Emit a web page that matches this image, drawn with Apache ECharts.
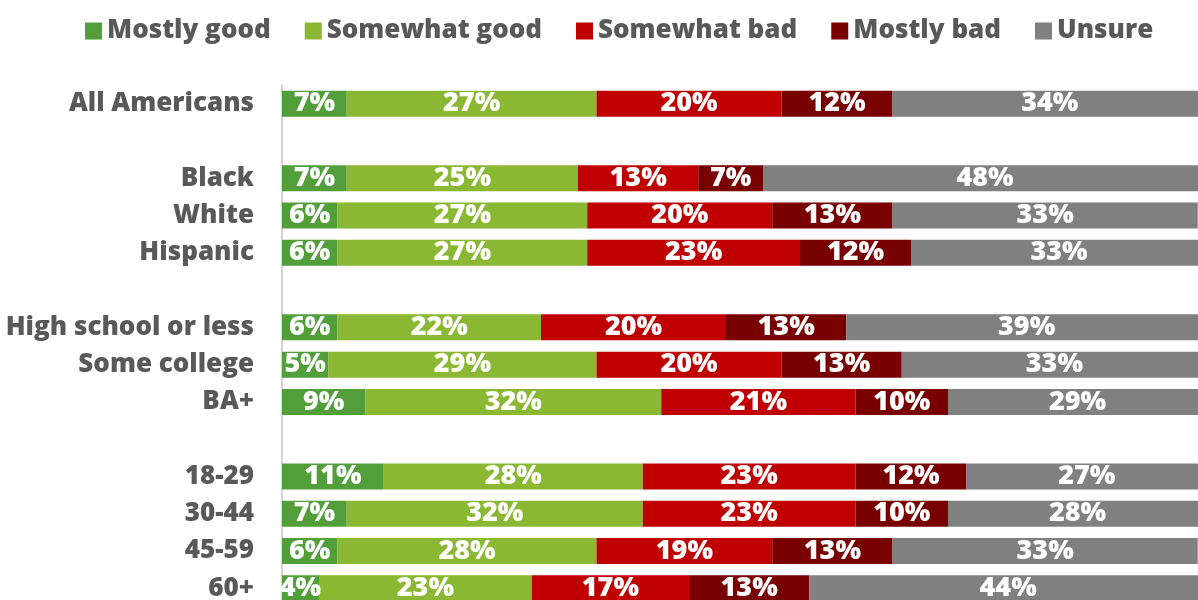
<!DOCTYPE html>
<html>
<head>
<meta charset="utf-8">
<script src="https://cdn.jsdelivr.net/npm/echarts@6/dist/echarts.min.js"></script>
<style>
  html, body { margin: 0; padding: 0; background: #ffffff; }
  #chart { width: 1198px; height: 600px; }
</style>
</head>
<body>
<div id="chart"></div>
<script>
// Row labels; empty strings are spacer rows between the groups.
const categories = [
  'All Americans', '',
  'Black', 'White', 'Hispanic', '',
  'High school or less', 'Some college', 'BA+', '',
  '18-29', '30-44', '45-59', '60+'
];

const seriesNames = ['Mostly good', 'Somewhat good', 'Somewhat bad', 'Mostly bad', 'Unsure'];
const seriesColors = ['#519e3a', '#8ab833', '#c00000', '#780000', '#808080'];

// Percentages per row (null on spacer rows).
const mostlyGood   = [7,  null, 7,  6,  6,  null, 6,  5,  9,  null, 11, 7,  6,  4];
const somewhatGood = [27, null, 25, 27, 27, null, 22, 29, 32, null, 28, 32, 28, 23];
const somewhatBad  = [20, null, 13, 20, 23, null, 20, 20, 21, null, 23, 23, 19, 17];
const mostlyBad    = [12, null, 7,  13, 12, null, 13, 13, 10, null, 12, 10, 13, 13];
const unsure       = [34, null, 48, 33, 33, null, 39, 33, 29, null, 27, 28, 33, 44];

const values = [mostlyGood, somewhatGood, somewhatBad, mostlyBad, unsure];

const FONT = '"Open Sans", Lato, sans-serif';

const chart = echarts.init(document.getElementById('chart'));
chart.setOption({
  backgroundColor: '#ffffff',
  animation: false,
  legend: {
    left: 80,
    top: 13,
    width: 1118,
    icon: 'rect',
    itemWidth: 17,
    itemHeight: 17,
    itemGap: 34,
    textStyle: {
      fontFamily: FONT, fontWeight: 800, fontSize: 26, color: '#595959'
    },
    data: seriesNames
  },
  // The plot runs a little past the right and bottom edges of the page.
  grid: {
    left: 282, width: 925, top: 85, bottom: -7,
    containLabel: false,
    outerBoundsMode: 'none'
  },
  xAxis: {
    type: 'value',
    min: 0,
    max: 100,
    show: false
  },
  yAxis: {
    type: 'category',
    inverse: true,
    data: categories,
    axisLine: { show: true, lineStyle: { color: '#d4d4d4', width: 2 } },
    axisTick: { show: false },
    axisLabel: {
      margin: 28,
      fontFamily: FONT,
      fontWeight: 800,
      fontSize: 26,
      color: '#595959'
    }
  },
  series: seriesNames.map((name, i) => ({
    name: name,
    type: 'bar',
    stack: 'total',
    barWidth: 26,
    itemStyle: { color: seriesColors[i] },
    label: {
      show: true,
      position: 'inside',
      formatter: p => (p.value == null ? '' : p.value + '%'),
      fontFamily: FONT,
      fontWeight: 800,
      fontSize: 27,
      color: '#ffffff'
    },
    data: values[i]
  }))
});
</script>
</body>
</html>
